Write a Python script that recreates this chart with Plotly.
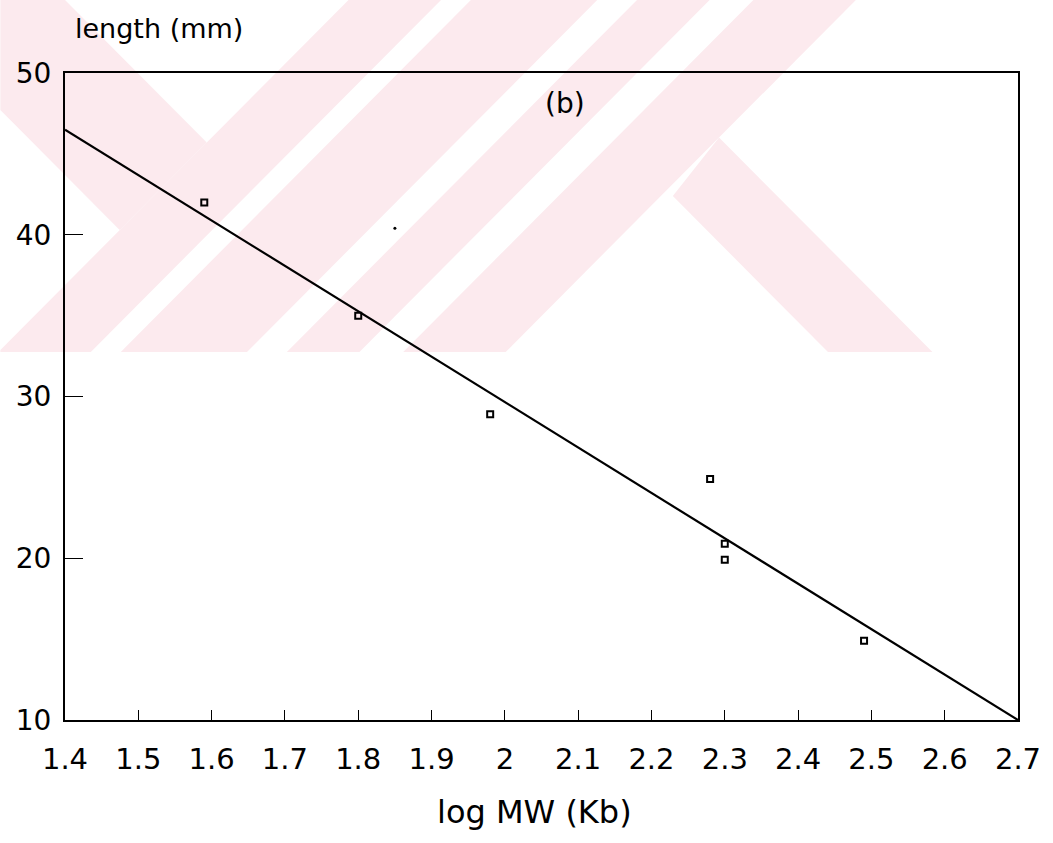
import plotly.graph_objects as go

# ---- data ----
log_mw = [1.59, 1.80, 1.98, 2.28, 2.30, 2.30, 2.49]
length_mm = [42.0, 35.0, 28.9, 24.9, 20.9, 19.9, 14.9]
stray_x = [1.85]
stray_y = [40.4]
fit_x = [1.4, 2.7]
fit_y = [46.5, 10.0]

x_tickvals = [1.4, 1.5, 1.6, 1.7, 1.8, 1.9, 2.0, 2.1, 2.2, 2.3, 2.4, 2.5, 2.6, 2.7]
x_ticktext = ["1.4", "1.5", "1.6", "1.7", "1.8", "1.9", "2", "2.1", "2.2", "2.3", "2.4", "2.5", "2.6", "2.7"]
y_tickvals = [10, 20, 30, 40, 50]

W, H = 1053, 843
ML, MR, MT, MB = 65, 30, 73, 123
PW, PH = W - ML - MR, H - MT - MB

FONT = "DejaVu Sans"
PINK = "rgb(252,234,238)"


def to_paper(pts):
    return [((px - ML) / PW, (H - MB - py) / PH) for px, py in pts]


def poly(pts, color):
    pp = to_paper(pts)
    d = "M " + " L ".join(f"{x:.4f},{y:.4f}" for x, y in pp) + " Z"
    return dict(type="path", path=d, xref="paper", yref="paper",
                fillcolor=color, line=dict(width=0), layer="below")


# watermark (background decoration of the scanned page)
shapes = [
    poly([(350, 0), (860, 0), (508, 352), (0, 352), (0, 350)], PINK),
    poly([(0, 0), (65, 0), (207.5, 142.5), (120, 230), (0, 110)], PINK),
    poly([(722.5, 137.5), (937, 352), (832, 352), (676, 196)], PINK),
    poly([(443, 0), (473, 0), (121, 352), (91, 352)], "white"),
    poly([(600, 0), (640, 0), (288, 352), (248, 352)], "white"),
    poly([(713, 0), (757, 0), (405, 352), (361, 352)], "white"),
]

fig = go.Figure()
fig.add_trace(go.Scatter(x=fit_x, y=fit_y, mode="lines",
                         line=dict(color="black", width=2.2), showlegend=False))
fig.add_trace(go.Scatter(x=log_mw, y=length_mm, mode="markers",
                         marker=dict(symbol="square-open", size=6, color="black",
                                     line=dict(width=2, color="black")),
                         showlegend=False))
fig.add_trace(go.Scatter(x=stray_x, y=stray_y, mode="markers",
                         marker=dict(symbol="circle", size=3, color="black"),
                         showlegend=False))

fig.update_layout(
    width=W, height=H,
    margin=dict(l=ML, r=MR, t=MT, b=MB),
    paper_bgcolor="white", plot_bgcolor="rgba(0,0,0,0)",
    font=dict(family=FONT, color="black"),
    shapes=shapes,
    annotations=[
        dict(text="length (mm)", xref="paper", yref="paper",
             x=(73 - ML) / PW, y=(H - MB - 28) / PH, xanchor="left", yanchor="middle",
             showarrow=False, font=dict(size=27, family=FONT, color="black")),
        dict(text="(b)", xref="paper", yref="paper",
             x=(568 - ML) / PW, y=(H - MB - 103) / PH, xanchor="center", yanchor="middle",
             showarrow=False, font=dict(size=28, family=FONT, color="black")),
        dict(text="log MW (Kb)", xref="paper", yref="paper",
             x=(537 - ML) / PW, y=(H - MB - 812) / PH, xanchor="center", yanchor="middle",
             showarrow=False, font=dict(size=32, family=FONT, color="black")),
    ],
)
fig.update_xaxes(range=[1.4, 2.7], tickvals=x_tickvals, ticktext=x_ticktext,
                 showgrid=False, zeroline=False, showline=True, linecolor="black",
                 linewidth=2, mirror=True, ticks="inside", ticklen=10, tickwidth=1,
                 tickcolor="black", tickfont=dict(size=29, family=FONT),
                 ticklabelstandoff=12)
fig.update_yaxes(range=[10, 50], tickvals=y_tickvals,
                 showgrid=False, zeroline=False, showline=True, linecolor="black",
                 linewidth=2, mirror=True, ticks="inside", ticklen=18, tickwidth=1,
                 tickcolor="black", tickfont=dict(size=28, family=FONT),
                 ticklabelstandoff=6)

fig.write_html("out.html")
